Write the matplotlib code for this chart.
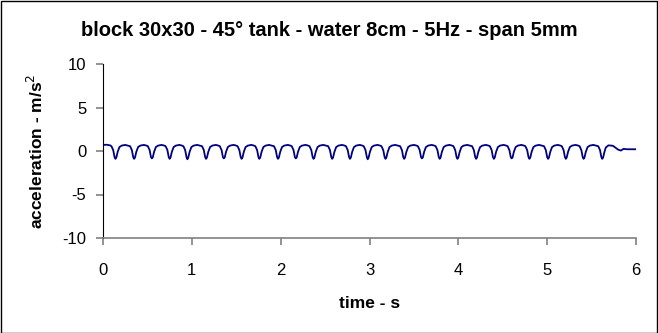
import numpy as np
import matplotlib
matplotlib.use("Agg")
import matplotlib.pyplot as plt
from matplotlib.patches import Rectangle

plt.rcParams['font.family'] = ['Liberation Sans', 'DejaVu Sans']
plt.rcParams['axes.unicode_minus'] = False

# times of the troughs (s) and their depth (m/s^2)
dip_t = [0.14, 0.35, 0.55, 0.75, 0.95, 1.16, 1.36, 1.56, 1.76, 1.97, 2.17, 2.37,
         2.58, 2.78, 2.98, 3.18, 3.39, 3.59, 3.79, 3.99, 4.20, 4.40, 4.60, 4.80,
         5.01, 5.21, 5.41, 5.62]
dip_v = [-0.9, -0.9, -0.85, -0.9, -0.95, -0.9, -0.85, -0.9, -0.9, -0.9, -0.85, -0.9,
         -0.9, -0.9, -0.95, -0.9, -0.9, -0.85, -0.9, -0.9, -0.9, -0.9, -0.85, -0.9,
         -0.9, -0.9, -0.9, -0.9]

# one cycle around a trough: offset (s) and value
cyc_dt = [-0.045, -0.025, -0.01, 0.01, 0.025, 0.045, 0.07, 0.11, 0.14]
cyc_v = [0.55, 0.1, -0.7, -0.75, -0.1, 0.45, 0.62, 0.7, 0.62]

# start and end of the record
head_t = [0.0, 0.04, 0.08]
head_v = [0.7, 0.72, 0.65]
tail_t = [5.66, 5.69, 5.74, 5.80, 5.83, 5.86, 5.90, 6.0]
tail_v = [0.4, 0.65, 0.6, 0.15, 0.05, 0.25, 0.2, 0.2]

t = list(head_t)
a = list(head_v)
for k in range(len(dip_t)):
    pts = sorted([(dip_t[k] + d, v) for d, v in zip(cyc_dt, cyc_v)] + [(dip_t[k], dip_v[k])])
    if k == len(dip_t) - 1:
        pts = [p for p in pts if p[0] < dip_t[k] + 0.03]
    for tt, vv in pts:
        t.append(tt)
        a.append(vv)
t += tail_t
a += tail_v

fig = plt.figure(figsize=(6.58, 3.33), dpi=100)
ax = fig.add_axes([103 / 658, 1 - 238 / 333, 533 / 658, 174 / 333])

ax.plot(t, a, color='#000080', lw=1.3)

ax.set_xlim(0, 6)
ax.set_ylim(-10, 10)
ax.set_xticks(range(0, 7))
ax.set_yticks([-10, -5, 0, 5, 10])
for s in ['top', 'right']:
    ax.spines[s].set_visible(False)
ax.spines['left'].set_color('black')
ax.spines['bottom'].set_color('#808080')
ax.spines['bottom'].set_linewidth(1.2)
ax.tick_params(axis='x', colors='#808080', labelcolor='black', length=5, width=1.2,
               labelsize=12, pad=13)
ax.tick_params(axis='y', colors='#808080', labelcolor='black', length=5, width=1.2,
               labelsize=12, pad=7)

fig.text(0.5, 1 - 31 / 333, 'block 30x30 - 45° tank - water 8cm - 5Hz - span 5mm',
         fontsize=14.5, fontweight='bold', ha='center', va='center')
ax.set_xlabel('time - s', fontsize=12.5, fontweight='bold', labelpad=13)
ax.set_ylabel('acceleration - m/s$^2$', fontsize=12.5, fontweight='bold', labelpad=12)

fig.patches.append(Rectangle((0.5 / 658, 0.5 / 333), 656.5 / 658, 331.5 / 333,
                             transform=fig.transFigure, fill=False,
                             edgecolor='black', lw=1))

fig.savefig('out.png', dpi=100)
